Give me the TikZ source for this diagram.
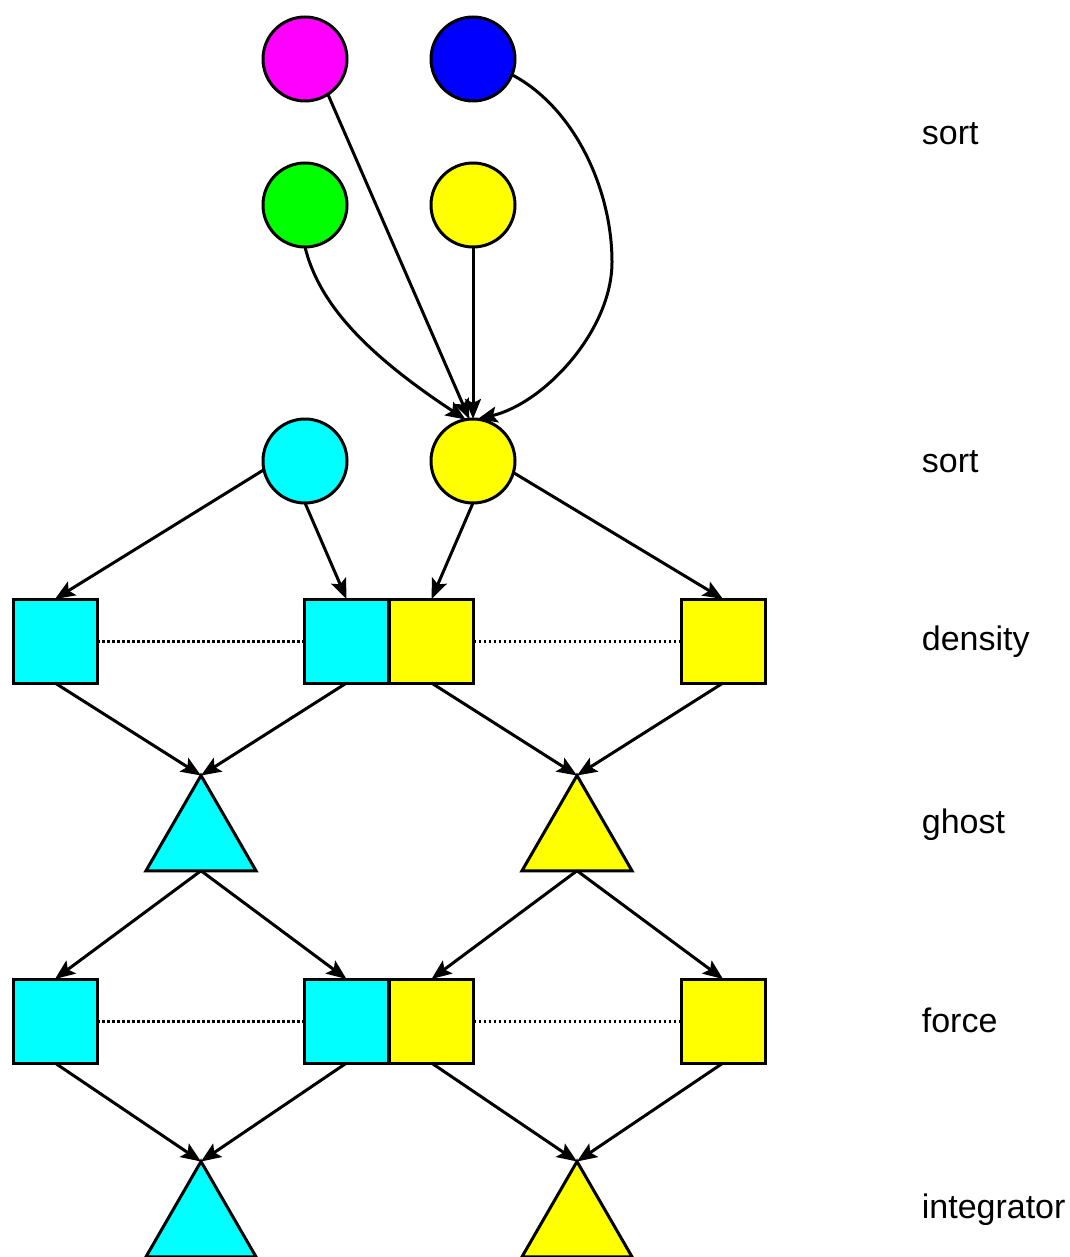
\documentclass[tikz,border=0pt]{standalone}
\usepackage{fontspec}
\setmainfont{Liberation Sans}
\usetikzlibrary{arrows.meta,shapes.geometric}
\definecolor{pcyan}{HTML}{00FFFF}
\definecolor{pyellow}{HTML}{FFFF00}
\definecolor{pmagenta}{HTML}{FF00FF}
\definecolor{pblue}{HTML}{0000FF}
\definecolor{pgreen}{HTML}{00FF00}

\begin{document}
\begin{tikzpicture}[x=1pt, y=-1pt, line width=3pt,
  ball/.style={circle, draw, minimum size=84pt, inner sep=0pt, outer sep=0pt},
  cell/.style={rectangle, draw, minimum size=84pt, inner sep=0pt, outer sep=0pt},
  wedge/.style={regular polygon, regular polygon sides=3, draw, minimum size=127pt,
                inner sep=0pt, outer sep=0pt},
  flow/.style={-{Stealth[length=20pt, width=16pt, inset=4pt]}},
  link/.style={dash pattern=on 2.5pt off 2.5pt},
  stage/.style={anchor=base west, font=\fontsize{34}{40}\selectfont}]
\clip (0,0) rectangle (1069,1257);
% ---------------- sort: incoming particles ----------------
\node[ball, fill=pmagenta] (sortM) at (305,59) {};
\node[ball, fill=pblue]    (sortB) at (473,59) {};
\node[ball, fill=pgreen]   (sortG) at (305,205) {};
\node[ball, fill=pyellow]  (sortY) at (473,205) {};
% ---------------- sort: local particles ----------------
\node[ball, fill=pcyan]    (sortC2) at (305,461) {};
\node[ball, fill=pyellow]  (sortY2) at (473,461) {};
% ---------------- density cells ----------------
\node[cell, fill=pcyan]   (densC1) at (55,641) {};
\node[cell, fill=pcyan]   (densC2) at (346.5,641) {};
\node[cell, fill=pyellow] (densY2) at (431.5,641) {};
\node[cell, fill=pyellow] (densY1) at (723,641) {};
% ---------------- ghost exchange ----------------
\node[wedge, fill=pcyan]   (ghostC) at (201,839) {};
\node[wedge, fill=pyellow] (ghostY) at (577,839) {};
% ---------------- force cells ----------------
\node[cell, fill=pcyan]   (forceC1) at (55,1021) {};
\node[cell, fill=pcyan]   (forceC2) at (346.5,1021) {};
\node[cell, fill=pyellow] (forceY2) at (431.5,1021) {};
\node[cell, fill=pyellow] (forceY1) at (723,1021) {};
% ---------------- integrator ----------------
\node[wedge, fill=pcyan]   (integC) at (201,1225) {};
\node[wedge, fill=pyellow] (integY) at (577,1225) {};

% stage names
\foreach \y/\t in {145/sort, 472/sort, 650/density, 833/ghost, 1032/force, 1218/integrator}{
  \node[stage] (stage\y) at (917,\y) {\t};}

% gather into the local yellow set
\draw[flow] (sortM.-57) -- (sortY2.95);
\draw[flow] (sortY) -- (sortY2.north);
\draw[flow] (sortG.south) .. controls (318,300) and (360,350) .. (sortY2.100);
\draw[flow] (sortB.-22) .. controls (575,108) and (612,190) .. (612,262)
  .. controls (612,330) and (545,403) .. (sortY2.84);

% particles to density cells
\draw[flow] (sortC2.192) -- (densC1.north);
\draw[flow] (sortC2.south) -- (densC2.north);
\draw[flow] (sortY2.south) -- (densY2.north);
\draw[flow] (sortY2.-16) -- (densY1.north);
\draw[link] (densC1) -- (densC2);
\draw[link] (densY2) -- (densY1);

% density to ghost, ghost to force
\foreach \a/\b in {densC1/ghostC, densC2/ghostC, densY2/ghostY, densY1/ghostY,
                   forceC1/integC, forceC2/integC, forceY2/integY, forceY1/integY}{
  \draw[flow] (\a.south) -- (\b.corner 1);}
\foreach \a/\b in {ghostC/forceC1, ghostC/forceC2, ghostY/forceY2, ghostY/forceY1}{
  \draw[flow] (\a.south) -- (\b.north);}
\draw[link] (forceC1) -- (forceC2);
\draw[link] (forceY2) -- (forceY1);
\end{tikzpicture}
\end{document}
